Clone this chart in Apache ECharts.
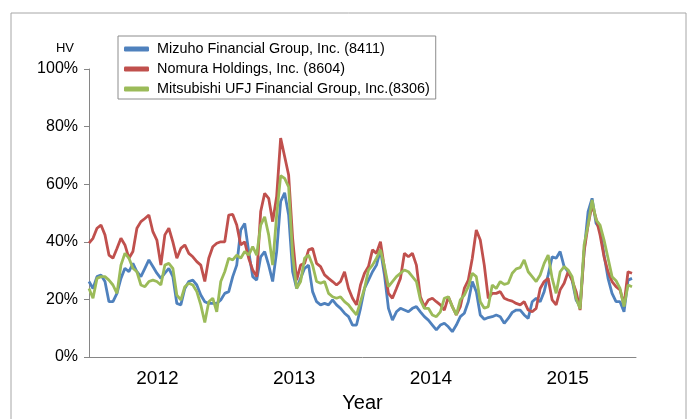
<!DOCTYPE html>
<html>
<head>
<meta charset="utf-8">
<script src="https://cdn.jsdelivr.net/npm/echarts@6/dist/echarts.min.js"></script>
<style>
  html, body { margin: 0; padding: 0; background: #fff; }
  #chart { width: 691px; height: 419px; }
</style>
</head>
<body>
<div id="chart"></div>
<script>
  // year labels on the x axis
  const years = ['2012', '2013', '2014', '2015']
  // one sample every ~10.7 days (4/137 of a year), starting Jan 2012
  const sampleStep = 4 / 137

  // historical volatility, %
  const mizuho = [
    26.2, 23.8, 27.9, 28.5, 26.2, 19.2, 19.2, 22.1, 27.3, 30.8, 29.6, 32.5, 29.6, 27.9, 30.8, 33.7, 31.4, 29.1, 27.3, 29.1,
    30.8, 27.9, 18.6, 18.1, 23.8, 26.2, 26.7, 25.0, 21.5, 19.2, 18.6, 18.6, 18.6, 19.8, 22.1,
    22.7, 27.9, 31.9, 44.1, 46.4, 36.6, 27.9, 26.7, 34.8, 36.6, 31.9, 26.2, 36.6, 54.0, 57.0, 49.3, 29.6, 23.8, 27.3, 30.8,
    31.9, 22.7, 19.2, 18.1, 18.6, 18.1, 19.8, 18.1, 16.9, 15.2, 14.0, 11.1, 11.1, 16.9,
    23.8, 26.7, 29.6, 31.9, 37.2, 28.5, 16.9, 12.8, 15.7, 16.9, 16.3, 15.7, 16.9, 17.5, 15.7, 14.0, 12.8, 11.1, 9.4, 11.1,
    11.7, 10.5, 8.8, 11.1, 14.0, 15.2, 19.2, 26.2, 22.7, 14.6, 13.1, 13.7, 14.0, 14.6,
    14.0, 11.7, 13.4, 15.5, 16.3, 16.3, 14.6, 13.4, 19.2, 20.4, 19.2, 22.7, 28.5, 34.8, 34.3, 36.6, 31.4, 29.6, 26.7, 19.8,
    17.5, 36.6, 50.5, 55.1, 46.4, 44.7, 35.4, 27.3, 22.1, 19.2, 19.2, 15.7, 26.7, 27.3
  ]
  const nomura = [
    39.5, 41.2, 44.7, 45.8, 42.4, 35.4, 34.3, 37.7, 41.2, 38.9, 34.3, 36.6, 44.7, 47.0, 48.1, 49.3, 43.5, 40.6, 31.9, 42.4,
    44.7, 40.0, 34.3, 37.7, 38.9, 36.0, 34.8, 33.1, 31.9, 26.2, 34.3, 38.3, 39.5, 40.0, 40.0,
    49.3, 49.5, 45.8, 38.9, 40.0, 34.3, 30.2, 27.9, 50.5, 56.8, 55.1, 47.0, 55.7, 76.0, 69.6, 63.2, 41.2, 26.7, 31.9, 32.5,
    37.2, 37.7, 32.5, 31.4, 28.5, 27.3, 26.2, 25.0, 26.2, 29.6, 23.8, 20.4, 18.1, 25.0,
    29.1, 31.4, 37.2, 36.0, 40.0, 30.8, 22.1, 20.4, 23.8, 27.3, 36.0, 34.8, 36.0, 31.9, 20.9, 17.5, 19.8, 20.4, 19.2, 18.1,
    16.3, 20.9, 17.5, 14.6, 17.5, 23.8, 26.7, 34.3, 44.1, 40.6, 31.9, 20.4, 22.1, 22.1,
    22.7, 20.4, 19.8, 19.4, 18.6, 18.1, 19.2, 16.3, 15.7, 16.9, 23.8, 26.2, 27.3, 19.8, 18.1, 23.3, 25.6, 29.6, 26.7, 22.7,
    16.3, 36.6, 45.8, 52.8, 48.1, 42.4, 34.8, 29.6, 26.2, 24.4, 23.3, 18.1, 29.6, 29.1
  ]
  const mufg = [
    23.8, 20.4, 27.3, 27.9, 27.9, 26.7, 25.0, 22.1, 31.9, 36.0, 34.3, 30.8, 29.6, 25.0, 24.4, 26.2, 26.7, 26.2, 25.0, 31.9,
    32.5, 30.8, 21.5, 19.8, 24.4, 25.6, 25.0, 22.7, 18.1, 12.0, 19.2, 20.4, 15.7, 26.2, 29.6,
    34.3, 33.7, 35.4, 34.3, 36.6, 35.4, 38.3, 35.4, 45.8, 48.7, 42.4, 31.9, 49.3, 63.0, 62.0, 59.1, 35.4, 23.8, 26.2, 34.3,
    35.4, 31.9, 26.2, 25.6, 26.2, 22.1, 20.9, 20.4, 20.9, 19.2, 18.1, 16.3, 14.6, 19.2,
    23.8, 30.2, 31.9, 34.3, 37.2, 31.4, 24.4, 26.2, 27.9, 29.1, 30.2, 29.6, 27.9, 26.2, 19.8, 16.9, 16.9, 14.6, 14.0, 15.7,
    20.4, 20.9, 17.5, 14.6, 19.8, 21.5, 24.4, 29.1, 27.9, 19.2, 16.9, 17.5, 25.0, 23.8,
    26.2, 25.2, 25.6, 29.1, 30.6, 31.0, 33.7, 29.6, 27.9, 26.2, 28.5, 32.5, 35.4, 27.3, 22.1, 29.6, 31.4, 30.2, 27.9, 20.4,
    16.7, 38.9, 45.8, 54.5, 47.6, 45.8, 40.6, 34.3, 27.9, 26.5, 23.8, 17.5, 25.0, 24.4
  ]

  const toPoints = (arr) => arr.map((v, i) => [i * sampleStep, v])

  const chart = echarts.init(document.getElementById('chart'))
  const lineSeries = (name, color, values) => ({
    name: name,
    type: 'line',
    xAxisIndex: 1,
    showSymbol: false,
    symbol: 'none',
    lineStyle: { width: 2.8, color: color },
    itemStyle: { color: color },
    data: toPoints(values),
  })

  chart.setOption({
    animation: false,
    backgroundColor: '#fff',
    textStyle: { fontFamily: 'Liberation Sans, Arial, sans-serif' },
    graphic: [
      {
        type: 'rect',
        shape: { x: 11, y: 13, width: 675, height: 420 },
        style: { fill: 'none', stroke: '#a6a6a6', lineWidth: 1 },
        silent: true,
      },
    ],
    grid: { left: 89, right: 55, top: 69, bottom: 62 },
    legend: {
      orient: 'vertical',
      left: 118,
      top: 36,
      itemWidth: 25,
      itemHeight: 5,
      itemGap: 4,
      icon: 'roundRect',
      padding: [5, 6, 2, 6],
      borderColor: '#8c8c8c',
      borderWidth: 1,
      backgroundColor: '#fff',
      textStyle: { fontSize: 14.4, color: '#000', lineHeight: 16, padding: [0, 0, 0, 3] },
      data: [
        'Mizuho Financial Group, Inc. (8411)',
        'Nomura Holdings, Inc. (8604)',
        'Mitsubishi UFJ Financial Group, Inc.(8306)',
      ],
    },
    xAxis: [
      {
        type: 'category',
        data: years,
        boundaryGap: true,
        name: 'Year',
        nameLocation: 'middle',
        nameGap: 36,
        nameTextStyle: { fontSize: 20, color: '#000', fontFamily: 'Liberation Sans Narrow, Liberation Sans, sans-serif' },
        axisLine: { lineStyle: { color: '#868686', width: 1 } },
        axisTick: { length: 5, lineStyle: { color: '#868686' } },
        axisLabel: { fontSize: 19, color: '#000', margin: 12, fontFamily: 'Liberation Sans Narrow, Liberation Sans, sans-serif' },
      },
      {
        type: 'value',
        min: 0,
        max: 4,
        show: false,
      },
    ],
    yAxis: {
      type: 'value',
      min: 0,
      max: 100,
      interval: 20,
      name: 'HV',
      nameLocation: 'end',
      nameGap: 21,
      nameTextStyle: { fontSize: 13, color: '#000', align: 'right', verticalAlign: 'middle', padding: [0, 15, 0, 0] },
      axisLine: { show: true, lineStyle: { color: '#868686', width: 1 } },
      axisTick: { show: true, length: 5, lineStyle: { color: '#868686' } },
      splitLine: { show: false },
      axisLabel: { formatter: '{value}%', fontSize: 16, color: '#000', margin: 11 },
    },
    series: [
      lineSeries('Mizuho Financial Group, Inc. (8411)', '#4F81BD', mizuho),
      lineSeries('Nomura Holdings, Inc. (8604)', '#C0504D', nomura),
      lineSeries('Mitsubishi UFJ Financial Group, Inc.(8306)', '#9BBB59', mufg),
    ],
  })
</script>
</body>
</html>
